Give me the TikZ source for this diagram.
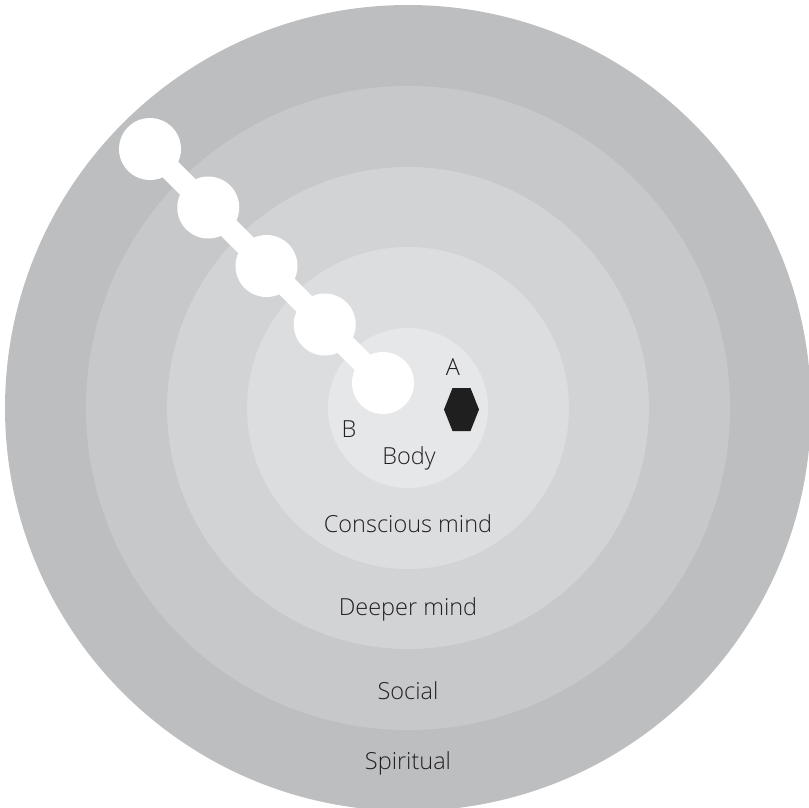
\documentclass[tikz,border=0pt]{standalone}
\usepackage{fontspec}
\setmainfont{Open Sans Light}
\usepackage{xcolor}
\usepackage{tikz}
\definecolor{ringfive}{HTML}{BCBEC0}
\definecolor{ringfour}{HTML}{C7C8CA}
\definecolor{ringthree}{HTML}{D1D3D4}
\definecolor{ringtwo}{HTML}{DCDDDE}
\definecolor{ringone}{HTML}{E6E7E8}
\definecolor{ltext}{HTML}{231F20}

\begin{document}
\begin{tikzpicture}[
  x=1pt,y=-1pt,
  bead/.style={circle,fill=white,minimum size=62pt,inner sep=0pt},
  lbl/.style={anchor=base,inner sep=0pt,text=ltext,
              font=\fontsize{23.5}{27}\selectfont}
]
\useasboundingbox (0,0) rectangle (809,807);
\coordinate (ctr) at (408,408);

% layers, outside in
\foreach \r/\c in {403/ringfive, 322/ringfour, 241/ringthree, 161/ringtwo, 80/ringone}
  {\fill[\c] (ctr) circle (\r);}

% chain of beads
\foreach \i in {0,...,4}
  {\node[bead] (b\i) at (150+58.25*\i,149+58.5*\i) {};}
\draw[white,line width=22pt] (b0.center) -- (b4.center);

% object A
\fill[black!88] (444,409.5) -- (452.5,388) -- (470.5,388) -- (479,409.5)
  -- (470.5,431) -- (452.5,431) -- cycle;

\node[lbl] (la) at (453,375) {A};
\node[lbl] (lb) at (349,437) {B};
\node[lbl] (body) at (409,464) {Body};
\node[lbl] (consc) at (408,532) {Conscious mind};
\node[lbl] (deep) at (408,615) {Deeper mind};
\node[lbl] (soc) at (408,699) {Social};
\node[lbl] (spir) at (408,769) {Spiritual};
\end{tikzpicture}
\end{document}
